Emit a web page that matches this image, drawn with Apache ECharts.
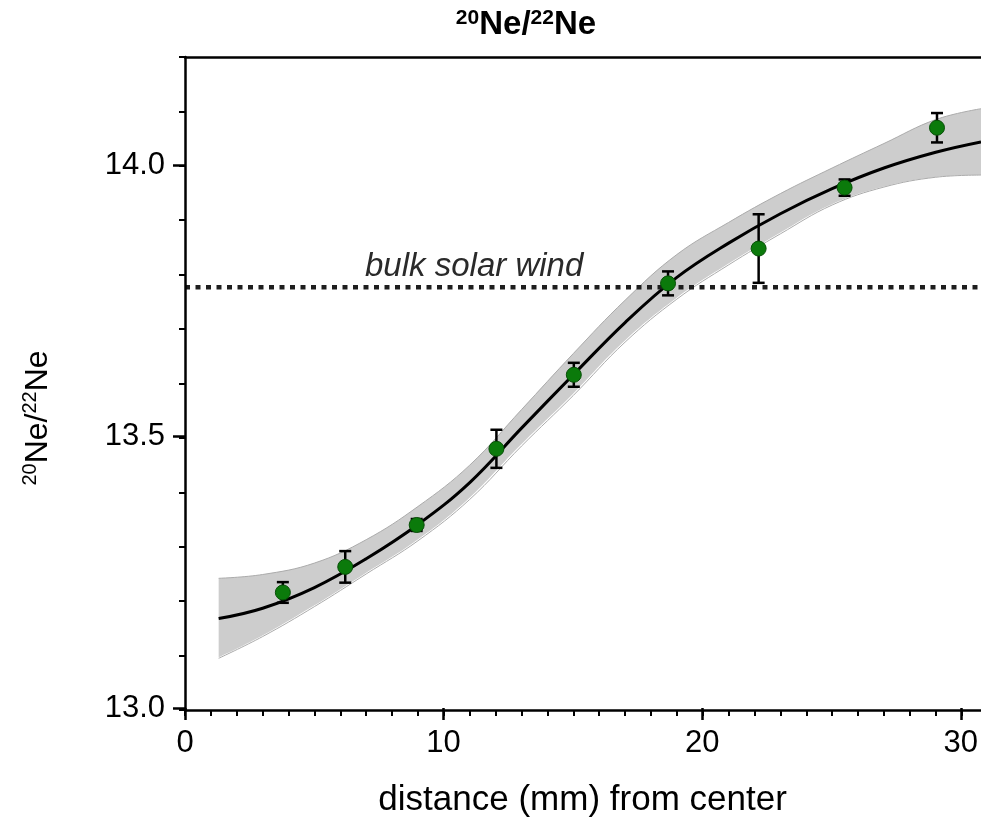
<!DOCTYPE html>
<html>
<head>
<meta charset="utf-8">
<script src="https://cdn.jsdelivr.net/npm/echarts@6/dist/echarts.min.js"></script>
<style>html,body{margin:0;padding:0;background:#fff;}#c{width:981px;height:823px;}</style>
</head>
<body>
<div id="c"></div>
<script>
// ---- data ----
const ptX   = [3.78, 6.19, 8.95, 12.03, 15.02, 18.66, 22.16, 25.48, 29.05];
const ptY   = [13.216, 13.263, 13.340, 13.480, 13.616, 13.784, 13.848, 13.960, 14.070];
const ptErr = [0.019, 0.029, 0.011, 0.035, 0.022, 0.022, 0.063, 0.015, 0.027];

const fitX   = [1.3, 3, 5, 7, 9, 11, 13, 15, 17, 19, 21, 23, 25, 27, 29, 30.75];
const fitY   = [13.168, 13.187, 13.225, 13.278, 13.341, 13.418, 13.518, 13.616, 13.712, 13.795, 13.858, 13.912, 13.958, 13.996, 14.025, 14.044];
const bandHi = [13.242, 13.249, 13.270, 13.313, 13.374, 13.450, 13.552, 13.655, 13.753, 13.837, 13.896, 13.949, 13.996, 14.041, 14.085, 14.105];
const bandLo = [13.095, 13.135, 13.190, 13.250, 13.311, 13.387, 13.485, 13.578, 13.676, 13.755, 13.818, 13.875, 13.928, 13.961, 13.979, 13.983];

const bulkSolarWind = 13.777;

const xMin = 0, xMax = 30.75;
const yMin = 13.0, yMax = 14.2;
const xMajorTicks = [0, 10, 20, 30];
const xMinorTicks = [0,1,2,3,4,5,6,7,8,9,10,11,12,13,14,15,16,17,18,19,20,21,22,23,24,25,26,27,28,29,30];
const yMajorTicks = [13.0, 13.5, 14.0];
const yMinorTicks = [13.0, 13.1, 13.2, 13.3, 13.4, 13.5, 13.6, 13.7, 13.8, 13.9, 14.0, 14.1, 14.2];

const titleText = '{sup|20}{b|Ne/}{sup|22}{b|Ne}';
const yNameText = '{sup|20}{m|Ne/}{sup|22}{m|Ne}';
const xNameText = 'distance (mm) from center';
const bulkLabel = 'bulk solar wind';

// ---- chart ----
const FONT = '"Liberation Sans", Arial, Helvetica, sans-serif';
const chart = echarts.init(document.getElementById('c'), null, {renderer: 'canvas'});
const gridPos = {left: 185, right: 0, top: 57, bottom: 113};

const zip = (a, b) => a.map((v, i) => [v, b[i]]);

const option = {
  animation: false,
  backgroundColor: '#ffffff',
  grid: [Object.assign({}, gridPos), Object.assign({}, gridPos)],
  xAxis: [
    {
      type: 'value', gridIndex: 0, position: 'bottom', min: xMin, max: xMax, interval: 1, z: 10,
      axisLine: {show: true, onZero: false, lineStyle: {color: '#000', width: 2.5}},
      axisTick: {show: true, length: 6, customValues: xMinorTicks, lineStyle: {color: '#000', width: 2}},
      axisLabel: {show: false}, splitLine: {show: false}
    },
    {
      type: 'value', gridIndex: 0, position: 'top', min: xMin, max: xMax, z: 10,
      axisLine: {show: true, onZero: false, lineStyle: {color: '#000', width: 2.5}},
      axisTick: {show: false}, axisLabel: {show: false}, splitLine: {show: false}
    },
    {
      type: 'value', gridIndex: 1, position: 'bottom', min: xMin, max: xMax, interval: 10, z: 10,
      axisLine: {show: false, onZero: false},
      axisTick: {show: true, length: 12, customValues: xMajorTicks, lineStyle: {color: '#000', width: 2.5}},
      axisLabel: {show: true, customValues: xMajorTicks, margin: 20, color: '#000', fontSize: 31, fontFamily: FONT,
        formatter: v => String(Math.round(v))},
      splitLine: {show: false},
      name: xNameText, nameLocation: 'middle', nameGap: 75,
      nameTextStyle: {color: '#000', fontSize: 35, fontFamily: FONT}
    }
  ],
  yAxis: [
    {
      type: 'value', gridIndex: 0, position: 'left', min: yMin, max: yMax, interval: 0.1, z: 10,
      axisLine: {show: true, onZero: false, lineStyle: {color: '#000', width: 2.5}},
      axisTick: {show: true, length: 6, customValues: yMinorTicks, lineStyle: {color: '#000', width: 2}},
      axisLabel: {show: false}, splitLine: {show: false}
    },
    {
      type: 'value', gridIndex: 1, position: 'left', min: yMin, max: yMax, interval: 0.5, z: 10,
      axisLine: {show: false, onZero: false},
      axisTick: {show: true, length: 12, customValues: yMajorTicks, lineStyle: {color: '#000', width: 2.5}},
      axisLabel: {show: true, customValues: yMajorTicks, margin: 20, color: '#000', fontSize: 31, fontFamily: FONT,
        formatter: v => Number(v).toFixed(1)},
      splitLine: {show: false}
    }
  ],
  graphic: [
    {
      type: 'text', x: 526, y: 25, z: 100,
      style: {
        text: titleText, align: 'center', verticalAlign: 'middle',
        rich: {
          b: {fontSize: 33, fontWeight: 'bold', fontFamily: FONT, fill: '#000', lineHeight: 34},
          sup: {fontSize: 21, fontWeight: 'bold', fontFamily: FONT, fill: '#000', verticalAlign: 'top', lineHeight: 22}
        }
      }
    },
    {
      type: 'text', x: 38, y: 418, rotation: Math.PI / 2, z: 100,
      style: {
        text: yNameText, align: 'center', verticalAlign: 'middle',
        rich: {
          m: {fontSize: 32, fontFamily: FONT, fill: '#000', lineHeight: 36},
          sup: {fontSize: 20, fontFamily: FONT, fill: '#000', verticalAlign: 'top', lineHeight: 20}
        }
      }
    },
    {
      type: 'text', x: 365, y: 267, z: 100,
      style: {
        text: bulkLabel, align: 'left', verticalAlign: 'middle',
        fontSize: 33, fontStyle: 'italic', fontFamily: FONT, fill: '#2a2a2a'
      }
    }
  ],
  series: [
    {
      name: 'bandHi', type: 'line', xAxisIndex: 0, yAxisIndex: 0,
      data: zip(fitX, bandHi), smooth: 0.4, symbol: 'none', z: 1,
      lineStyle: {color: '#ababab', width: 1},
      areaStyle: {color: '#cdcdcd', opacity: 1, origin: 'start'}, silent: true
    },
    {
      name: 'bandLo', type: 'line', xAxisIndex: 0, yAxisIndex: 0,
      data: zip(fitX, bandLo), smooth: 0.4, symbol: 'none', z: 1,
      lineStyle: {color: '#ababab', width: 1},
      areaStyle: {color: '#ffffff', opacity: 1, origin: 'start',
        shadowColor: '#ffffff', shadowBlur: 0, shadowOffsetX: -2, shadowOffsetY: 0}, silent: true
    },
    {
      name: 'fit', type: 'line', xAxisIndex: 0, yAxisIndex: 0,
      data: zip(fitX, fitY), smooth: 0.4, symbol: 'none', z: 3,
      lineStyle: {color: '#000', width: 3}
    },
    {
      name: 'bulk', type: 'line', xAxisIndex: 0, yAxisIndex: 0,
      data: [[xMin, bulkSolarWind], [xMax, bulkSolarWind]], symbol: 'none', z: 4,
      lineStyle: {color: '#1e1e1e', width: 4.5, type: [5, 5.5]}
    },
    {
      name: 'err', type: 'custom', xAxisIndex: 0, yAxisIndex: 0, z: 5,
      data: ptX.map((x, i) => [x, ptY[i], ptErr[i]]),
      encode: {x: 0, y: 1},
      renderItem: function (params, api) {
        const x = api.value(0), y = api.value(1), e = api.value(2);
        const t = api.coord([x, y + e]);
        const b = api.coord([x, y - e]);
        const h = 6;
        const st = {stroke: '#000', lineWidth: 2.5};
        return {
          type: 'group',
          children: [
            {type: 'line', shape: {x1: t[0], y1: t[1], x2: b[0], y2: b[1]}, style: st},
            {type: 'line', shape: {x1: t[0] - h, y1: t[1], x2: t[0] + h, y2: t[1]}, style: st},
            {type: 'line', shape: {x1: b[0] - h, y1: b[1], x2: b[0] + h, y2: b[1]}, style: st}
          ]
        };
      }
    },
    {
      name: 'points', type: 'scatter', xAxisIndex: 0, yAxisIndex: 0, z: 6,
      data: zip(ptX, ptY), symbol: 'circle', symbolSize: 15,
      itemStyle: {color: '#0b7a0b', borderColor: '#064f06', borderWidth: 1, opacity: 1}
    }
  ]
};
chart.setOption(option);
</script>
</body>
</html>
